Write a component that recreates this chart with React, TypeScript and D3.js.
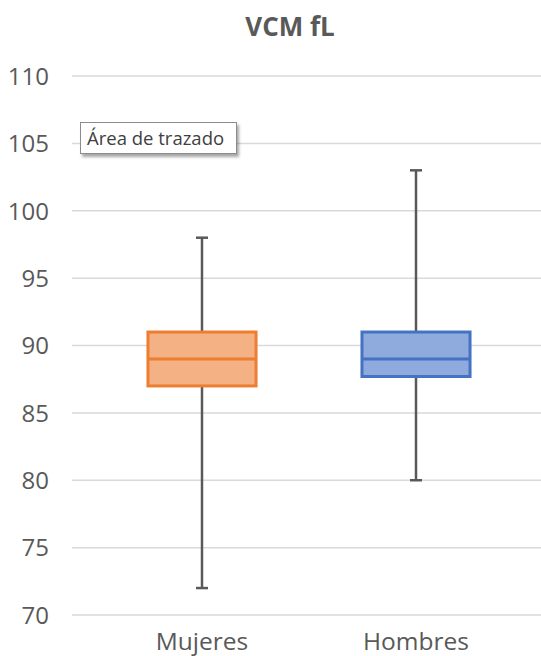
import React from "react";
import * as d3 from "d3";

const categories = ["Mujeres", "Hombres"];
const whiskerLow = [72, 80];
const q1 = [87, 87.7];
const median = [89, 89];
const q3 = [91, 91];
const whiskerHigh = [98, 103];
const yTicks = [70, 75, 80, 85, 90, 95, 100, 105, 110];
const strokeColors = ["#ED7D31", "#4472C4"];
const fillColors = ["#F4B183", "#8FAADC"];

const W = 541;
const H = 656;
const FONT = "'Open Sans', 'Segoe UI', sans-serif";

export default function App() {
  const y = d3.scaleLinear().domain([70, 110]).range([615, 76]);
  const x = d3.scaleBand().domain(categories).range([95, 523]);
  const boxW = x.bandwidth() * 0.505;
  const gridX0 = 72;
  const gridX1 = W;

  return (
    <svg
      width={W}
      height={H}
      style={{ position: "absolute", left: 0, top: 0, background: "#fff" }}
    >
      <defs>
        <filter id="shadow" x="-10%" y="-20%" width="130%" height="160%">
          <feDropShadow dx="2" dy="3" stdDeviation="1.5" floodColor="#000" floodOpacity="0.35" />
        </filter>
      </defs>
      <text
        x={290}
        y={36}
        textAnchor="middle"
        fontFamily={FONT}
        fontWeight="bold"
        fontSize={26}
        fill="#595959"
      >
        VCM fL
      </text>

      {yTicks.map((t) => (
        <g key={t}>
          <line x1={gridX0} x2={gridX1} y1={y(t)} y2={y(t)} stroke="#D9D9D9" strokeWidth={1.5} />
          <text
            x={49}
            y={y(t) + 8.8}
            textAnchor="end"
            fontFamily={FONT}
            fontSize={24}
            fill="#595959"
          >
            {t}
          </text>
        </g>
      ))}

      {categories.map((c, i) => {
        const cx = x(c)! + x.bandwidth() / 2;
        return (
          <g key={c}>
            <line x1={cx} x2={cx} y1={y(whiskerHigh[i])} y2={y(q3[i])} stroke="#595959" strokeWidth={2.5} />
            <line x1={cx} x2={cx} y1={y(q1[i])} y2={y(whiskerLow[i])} stroke="#595959" strokeWidth={2.5} />
            <line x1={cx - 6} x2={cx + 6} y1={y(whiskerHigh[i])} y2={y(whiskerHigh[i])} stroke="#595959" strokeWidth={2.5} />
            <line x1={cx - 6} x2={cx + 6} y1={y(whiskerLow[i])} y2={y(whiskerLow[i])} stroke="#595959" strokeWidth={2.5} />
            <rect
              x={cx - boxW / 2}
              y={y(q3[i])}
              width={boxW}
              height={y(q1[i]) - y(q3[i])}
              fill={fillColors[i]}
              stroke={strokeColors[i]}
              strokeWidth={3}
            />
            <line
              x1={cx - boxW / 2}
              x2={cx + boxW / 2}
              y1={y(median[i])}
              y2={y(median[i])}
              stroke={strokeColors[i]}
              strokeWidth={3}
            />
            <text
              x={cx}
              y={650}
              textAnchor="middle"
              fontFamily={FONT}
              fontSize={24.5}
              fill="#595959"
            >
              {c}
            </text>
          </g>
        );
      })}

      <g filter="url(#shadow)">
        <rect x={80.5} y={122.5} width={156} height={31} fill="#fff" stroke="#8c8c8c" strokeWidth={1} />
      </g>
      <text x={87} y={145} fontFamily={FONT} fontSize={18.5} fill="#404040">
        Área de trazado
      </text>
    </svg>
  );
}
